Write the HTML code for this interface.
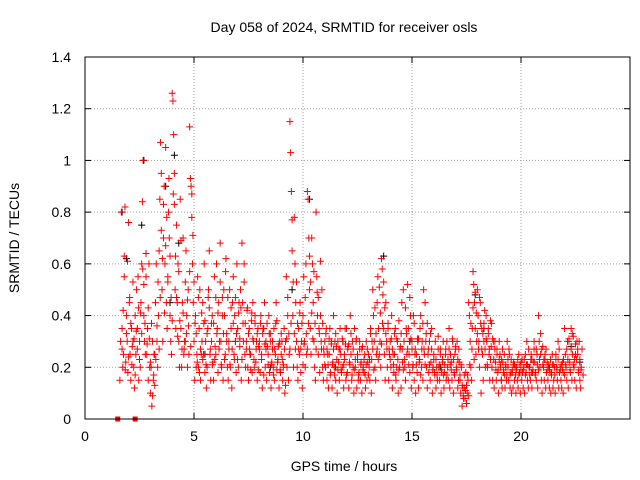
<!DOCTYPE html>
<html><head><meta charset="utf-8"><style>
html,body{margin:0;padding:0;background:#fff;}
svg{display:block;font-family:"Liberation Sans",sans-serif;}
</style></head><body>
<svg id="chart" width="640" height="480" viewBox="0 0 640 480">
<text x="344" y="32" font-size="14" text-anchor="middle">Day 058 of 2024, SRMTID for receiver osls</text>
<text x="344" y="471" font-size="14" text-anchor="middle">GPS time / hours</text>
<text transform="translate(19,238) rotate(-90)" font-size="14" text-anchor="middle">SRMTID / TECUs</text>
<g id="grid"></g>
<g id="marks"></g>
<rect x="85" y="57" width="545" height="362" fill="none" stroke="#000" stroke-width="1"/>
<g id="ticks"></g>
</svg>
<script>
const xTicks = [0,5,10,15,20];
const yTicks = [0,0.2,0.4,0.6,0.8,1,1.2,1.4];
const yTickLabels = ["0","0.2","0.4","0.6","0.8","1","1.2","1.4"];
const binTimes = [1.6,1.8,2.0,2.2,2.4,2.6,2.8,3.0,3.2,3.4,3.6,3.8,4.0,4.2,4.4,4.6,4.8,5.0,5.2,5.4,5.6,5.8,6.0,6.2,6.4,6.6,6.8,7.0,7.2,7.4,7.6,7.8,8.0,8.2,8.4,8.6,8.8,9.0,9.2,9.4,9.6,9.8,10.0,10.2,10.4,10.6,10.8,11.0,11.2,11.4,11.6,11.8,12.0,12.2,12.4,12.6,12.8,13.0,13.2,13.4,13.6,13.8,14.0,14.2,14.4,14.6,14.8,15.0,15.2,15.4,15.6,15.8,16.0,16.2,16.4,16.6,16.8,17.0,17.2,17.4,17.6,17.8,18.0,18.2,18.4,18.6,18.8,19.0,19.2,19.4,19.6,19.8,20.0,20.2,20.4,20.6,20.8,21.0,21.2,21.4,21.6,21.8,22.0,22.2,22.4,22.6];
const binValues = [
[.15,.3,.8,.35,.2,.25],[.55,.82,.22,.4,.3,.18],[.76,.45,.25,.15,.35,.28],[.3,.2,.12,.4,.25,.5],[.35,.55,.15,.3,.2,.45],[.6,.84,1.0,.4,.3,.25],[.55,.25,.35,.15,.6,.2],[.1,.2,.05,.3,.15,.25],[.25,.45,.6,.3,.2,.4],[.65,.85,1.07,.95,.5,.3],
[.7,.9,.6,1.05,.45,.35],[.55,.8,.7,.4,.3,.25],[1.26,1.23,1.1,.95,.5,.35],[.75,.45,.6,.3,.2,.85],[.35,.2,.45,.7,.25,.3],[.3,.65,.4,.2,.5,.25],[1.13,.93,.9,.78,.6,.45],[.3,.15,.4,.2,.25,.55],[.2,.35,.5,.15,.25,.3],[.45,.25,.6,.18,.3,.12],
[.2,.35,.5,.65,.25,.15],[.3,.4,.22,.15,.55,.28],[.25,.6,.35,.18,.45,.3],[.68,.3,.2,.4,.15,.5],[.4,.25,.62,.3,.2,.15],[.3,.5,.2,.35,.12,.45],[.55,.25,.4,.3,.18,.6],[.35,.2,.45,.28,.5,.15],[.68,.45,.3,.6,.25,.2],[.3,.42,.2,.15,.35,.25],
[.25,.38,.18,.45,.3,.2],[.4,.22,.3,.15,.35,.28],[.3,.18,.4,.25,.12,.35],[.35,.45,.2,.3,.15,.28],[.25,.4,.18,.3,.12,.22],[.3,.2,.35,.15,.25,.45],[.38,.22,.28,.12,.3,.18],[.25,.3,.15,.2,.35,.1],[.3,.55,.2,.4,.15,.25],[1.15,1.03,.88,.65,.4,.2],
[.78,.6,.45,.3,.2,.15],[.35,.25,.45,.18,.3,.12],[.4,.55,.3,.2,.6,.25],[.88,.85,.7,.5,.35,.25],[.7,.6,.45,.3,.2,.15],[.8,.55,.4,.25,.35,.18],[.4,.3,.5,.2,.15,.25],[.3,.2,.35,.15,.25,.12],[.25,.35,.18,.3,.12,.22],[.4,.2,.3,.15,.28,.1],
[.3,.22,.15,.35,.25,.18],[.2,.3,.12,.25,.35,.15],[.35,.18,.28,.12,.22,.4],[.25,.15,.3,.2,.1,.35],[.2,.3,.12,.25,.15,.18],[.3,.15,.22,.1,.28,.2],[.18,.25,.12,.3,.15,.22],[.25,.2,.15,.35,.1,.3],[.5,.4,.3,.2,.15,.25],[.45,.55,.35,.25,.3,.2],
[.62,.58,.48,.35,.25,.15],[.45,.3,.2,.35,.15,.25],[.3,.2,.4,.12,.25,.18],[.25,.35,.15,.2,.3,.1],[.38,.2,.28,.12,.45,.22],[.5,.3,.2,.15,.35,.25],[.52,.35,.25,.18,.4,.12],[.3,.2,.4,.15,.25,.1],[.25,.18,.3,.12,.22,.35],[.4,.2,.3,.15,.5,.25],
[.45,.3,.2,.12,.25,.18],[.3,.15,.22,.35,.1,.2],[.25,.18,.3,.12,.2,.15],[.32,.2,.15,.25,.1,.18],[.22,.3,.12,.18,.25,.15],[.3,.2,.15,.35,.12,.25],[.22,.15,.3,.1,.18,.25],[.28,.2,.3,.12,.15,.22],[.15,.1,.2,.05,.12,.08],[.12,.08,.18,.06,.1,.15],
[.45,.4,.3,.2,.15,.35],[.57,.52,.45,.35,.25,.3],[.5,.4,.3,.2,.45,.1],[.35,.25,.15,.3,.42,.2],[.4,.3,.2,.35,.25,.15],[.38,.28,.2,.15,.3,.12],[.3,.22,.15,.25,.18,.1],[.3,.25,.2,.15,.12,.22],[.18,.25,.12,.2,.15,.3],[.2,.15,.25,.12,.18,.1],
[.18,.12,.22,.15,.2,.1],[.2,.15,.12,.25,.18,.1],[.22,.15,.18,.12,.2,.1],[.25,.18,.3,.15,.12,.2],[.2,.15,.25,.12,.18,.22],[.3,.22,.18,.15,.25,.12],[.4,.3,.2,.25,.15,.1],[.28,.2,.15,.25,.12,.18],[.22,.15,.2,.12,.18,.1],[.18,.25,.12,.15,.2,.1],
[.25,.2,.15,.3,.12,.18],[.2,.15,.12,.22,.1,.18],[.35,.25,.2,.15,.3,.12],[.3,.22,.18,.35,.15,.25],[.32,.2,.15,.25,.12,.3],[.25,.18,.3,.15,.12,.2]];
const binValues2 = [
[.27,.42,.63,.19],[.33,.61,.24,.47],[.37,.21,.53,.31],[.17,.34,.27,.43],[.23,.41,.33,.58],[.52,.37,.64,.29],[.43,.31,.22,.37],[.09,.17,.13,.23],[.36,.53,.27,.47],[.73,.62,.83,.41],
[.67,.78,.53,.93],[.63,.47,.38,.87],[.83,.63,.47,.32],[.57,.38,.69,.27],[.41,.27,.53,.33],[.46,.36,.57,.28],[.87,.71,.53,.37],[.33,.22,.47,.18],[.27,.41,.23,.37],[.38,.21,.33,.47],
[.43,.27,.37,.21],[.37,.23,.47,.33],[.41,.27,.53,.21],[.47,.33,.23,.57],[.33,.47,.27,.21],[.43,.27,.37,.23],[.47,.33,.23,.41],[.31,.43,.23,.37],[.53,.37,.27,.43],[.33,.27,.19,.41],
[.31,.23,.37,.27],[.33,.19,.27,.37],[.23,.33,.17,.29],[.27,.37,.21,.33],[.33,.21,.27,.17],[.27,.37,.19,.23],[.29,.19,.33,.23],[.21,.27,.13,.31],[.47,.33,.27,.37],[.77,.53,.33,.27],
[.53,.37,.27,.41],[.27,.37,.21,.29],[.47,.33,.27,.37],[.63,.53,.41,.31],[.57,.37,.27,.49],[.47,.33,.61,.27],[.37,.27,.21,.33],[.27,.21,.31,.17],[.29,.21,.27,.17],[.33,.23,.19,.27],
[.27,.19,.31,.21],[.23,.29,.17,.27],[.29,.21,.33,.17],[.27,.19,.23,.31],[.23,.17,.27,.21],[.27,.19,.23,.17],[.21,.27,.17,.23],[.33,.23,.27,.19],[.43,.33,.27,.23],[.51,.41,.29,.37],
[.53,.43,.33,.27],[.37,.27,.23,.31],[.27,.21,.33,.17],[.31,.23,.19,.27],[.33,.27,.19,.23],[.43,.33,.27,.21],[.47,.31,.27,.21],[.37,.27,.21,.31],[.31,.23,.17,.27],[.37,.27,.21,.33],
[.37,.27,.21,.33],[.27,.19,.23,.17],[.23,.17,.27,.21],[.27,.19,.23,.17],[.21,.27,.17,.23],[.27,.21,.19,.31],[.23,.17,.27,.19],[.23,.27,.17,.21],[.13,.09,.17,.11],[.13,.17,.09,.21],
[.37,.27,.43,.23],[.49,.41,.33,.27],[.47,.37,.27,.33],[.37,.27,.31,.21],[.33,.27,.23,.37],[.31,.23,.27,.19],[.27,.19,.23,.21],[.23,.27,.19,.17],[.21,.17,.23,.27],[.17,.23,.19,.21],
[.21,.17,.19,.23],[.17,.21,.19,.23],[.19,.23,.17,.21],[.21,.27,.17,.23],[.23,.19,.27,.17],[.27,.21,.19,.23],[.33,.27,.21,.23],[.23,.27,.19,.21],[.19,.23,.17,.21],[.21,.17,.23,.19],
[.23,.27,.19,.21],[.19,.23,.17,.21],[.27,.23,.31,.19],[.27,.33,.21,.23],[.29,.23,.27,.19],[.23,.19,.27,.17]];
const blackTimes = [1.7,1.9,2.7,2.6,3.7,3.9,4.1,4.3,5.5,6.9,8.5,9.5,10.3,11.5,13.7,14.9,16.3,17.9,18.3,19.1,20.5,21.3,22.3,22.7];
const blackValues = [.8,.62,1.0,.75,.9,.45,1.02,.68,.25,.3,.2,.5,.85,.2,.63,.3,.2,.48,.35,.15,.18,.2,.28,.22];
const zeroTimes = [1.5,2.3];

const X0=85,X1=630,Y0=419,Y1=57,XMAX=25,YMAX=1.4;
const sx=v=>X0+(X1-X0)*v/XMAX;
const sy=v=>Y0-(Y0-Y1)*v/YMAX;
const NS="http://www.w3.org/2000/svg";
function mk(tag,attrs,parent){const e=document.createElementNS(NS,tag);for(const k in attrs)e.setAttribute(k,attrs[k]);parent.appendChild(e);return e;}
const grid=document.getElementById('grid'),ticks=document.getElementById('ticks'),marks=document.getElementById('marks');
xTicks.forEach(t=>{
  const x=sx(t);
  if(t>0){const g=mk('line',{x1:x,y1:Y0,x2:x,y2:Y1,stroke:'#a0a0a0','stroke-dasharray':'1,2'},grid);
  
  }
  const a=mk('line',{x1:x,y1:Y0,x2:x,y2:Y0-6,stroke:'#000'},ticks);
  
  
  const b=mk('line',{x1:x,y1:Y1,x2:x,y2:Y1+6,stroke:'#000'},ticks);
  
  
  const l=mk('text',{x:x,y:Y0+22,'font-size':14,'text-anchor':'middle'},ticks);l.textContent=String(t);
  
  
});
yTicks.forEach((t,i)=>{
  const y=sy(t);
  if(t>0&&t<YMAX){const g=mk('line',{x1:X0,y1:y,x2:X1,y2:y,stroke:'#a0a0a0','stroke-dasharray':'1,2'},grid);
  
  }
  const a=mk('line',{x1:X0,y1:y,x2:X0+6,y2:y,stroke:'#000'},ticks);
  
  
  const b=mk('line',{x1:X1,y1:y,x2:X1-6,y2:y,stroke:'#000'},ticks);
  
  
  const l=mk('text',{x:X0-14,y:y+5,'font-size':14,'text-anchor':'end'},ticks);l.textContent=yTickLabels[i];
  
  
});
function cross(x,y,color){
  return mk('path',{d:`M${x-3.5},${y}h7M${x},${y-3.5}v7`,stroke:color,'stroke-width':1,fill:'none'},marks);
}
blackTimes.forEach((t,i)=>{
  const p=cross(sx(t),sy(blackValues[i]),'#000');
  
  
});
binTimes.forEach((t,i)=>{
  const vals=binValues[i];
  vals.forEach((v,k)=>{
    const p=cross(sx(t+0.2*k/vals.length),sy(v),'#ff0000');
    
    
  });
  const vals2=binValues2[i];
  vals2.forEach((v,k)=>{
    const p=cross(sx(t+0.1+0.2*k/vals2.length),sy(v),'#ff0000');
    
    
  });
});
zeroTimes.forEach(t=>{
  const r=mk('rect',{x:sx(t)-2.5,y:sy(0)-2.5,width:5,height:5,fill:'#ff0000'},marks);
  
  
});
</script>
</body></html>
